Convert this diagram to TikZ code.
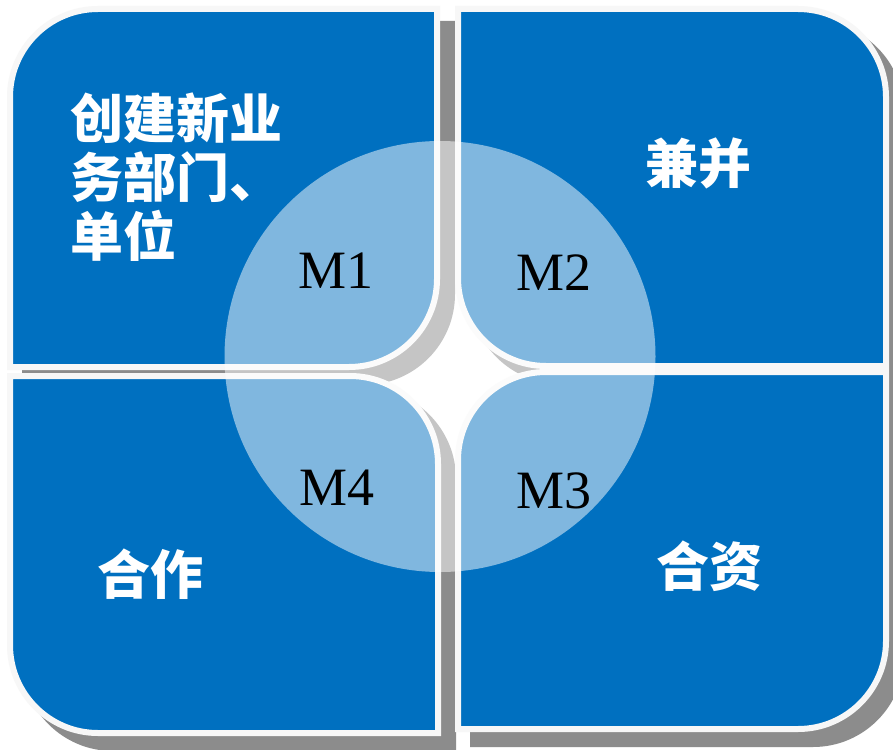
\documentclass[tikz,border=0pt]{standalone}
\usepackage{fontspec}
\setmainfont{Liberation Serif}
\newfontfamily\cjkb{Noto Sans CJK SC}
\definecolor{qblue}{HTML}{0070C0}
\definecolor{qedge}{HTML}{F7F7F7}
\definecolor{qshadow}{HTML}{8C8C8C}
% TL and BR corners rounded
\newcommand\diagA[5]{(#1+#5,#2) -- (#3,#2) -- (#3,#4-#5) arc[start angle=0,end angle=90,radius=#5] -- (#1,#4) -- (#1,#2+#5) arc[start angle=180,end angle=270,radius=#5] -- cycle}
% TR and BL corners rounded
\newcommand\diagB[5]{(#1,#2) -- (#3-#5,#2) arc[start angle=270,end angle=360,radius=#5] -- (#3,#4) -- (#1+#5,#4) arc[start angle=90,end angle=180,radius=#5] -- cycle}
\tikzset{
  quad/.style={fill=qblue, draw=qedge, line width=6pt},
  qshad/.style={fill=qshadow, draw=qshadow, line width=6pt, shift={(15,15)}},
  cjklab/.style={text=white, inner sep=0pt, font=\cjkb\bfseries\fontsize{53}{59}\selectfont},
  mlab/.style={text=black, inner sep=0pt, font=\fontsize{54}{60}\selectfont}
}
\begin{document}
\begin{tikzpicture}[x=1pt,y=-1pt]
\useasboundingbox (0,0) rectangle (893,749);
\fill[white] (0,0) rectangle (893,749);
% shadows
\path[qshad] \diagA{10}{9}{437}{367}{88};
\path[qshad] \diagB{458}{9}{886}{366}{88};
\path[qshad] \diagA{458}{372}{886}{729}{88};
\path[qshad] \diagB{10}{376}{438}{733}{88};
% quadrants
\path[quad] \diagA{10}{9}{437}{367}{88};
\path[quad] \diagB{458}{9}{886}{366}{88};
\path[quad] \diagA{458}{372}{886}{729}{88};
\path[quad] \diagB{10}{376}{438}{733}{88};
% centre circle
\fill[white, fill opacity=0.5] (440,356.5) circle[radius=215.5];
% labels
\node[cjklab, anchor=north west, align=left] (t1) at (70,93) {创建新业\\务部门、\\单位};
\node[cjklab] (t2) at (698,163) {兼并};
\node[cjklab] (t4) at (150,574) {合作};
\node[cjklab] (t3) at (709,566) {合资};
\node[mlab] (m1) at (336,271) {M1};
\node[mlab] (m2) at (554,273) {M2};
\node[mlab] (m3) at (554,491) {M3};
\node[mlab] (m4) at (337,488) {M4};
\end{tikzpicture}
\end{document}
